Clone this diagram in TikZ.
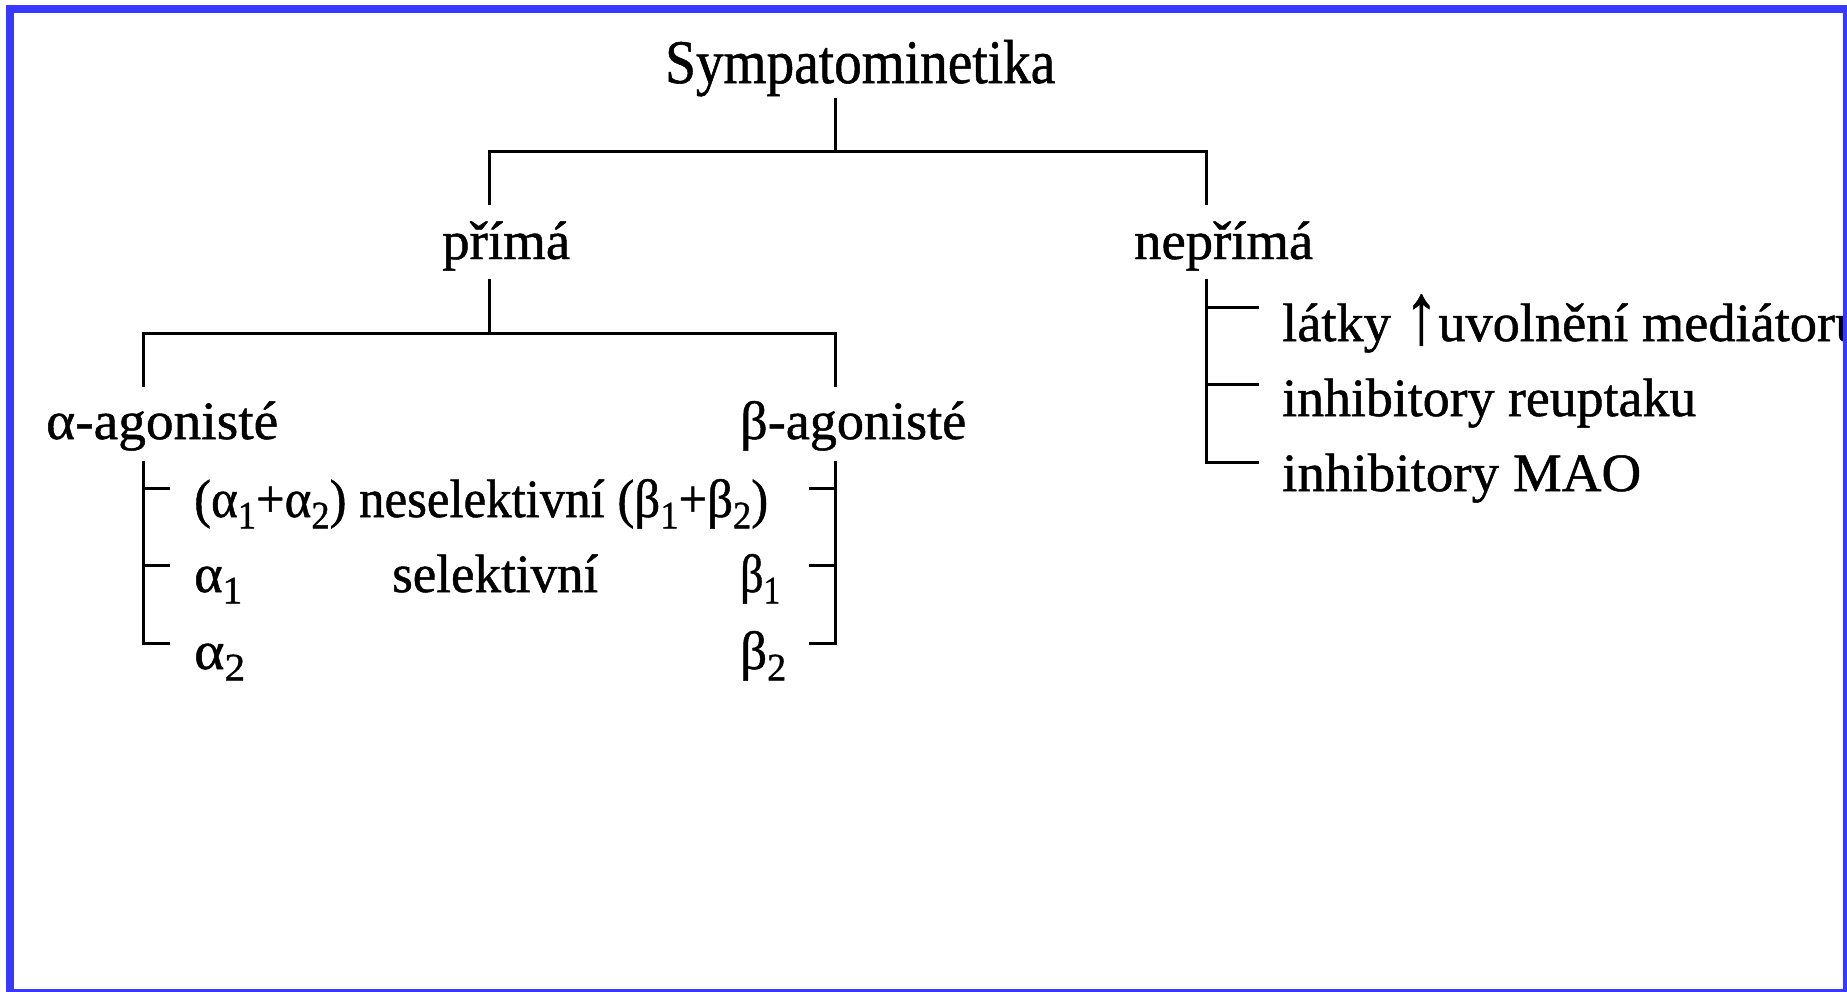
\documentclass[tikz,border=0pt]{standalone}
\usepackage{fontspec}
\setmainfont{Liberation Serif}[FakeBold=0.9]
\usepackage{graphicx}
\definecolor{frameblue}{RGB}{56,56,255}
\newcommand{\fitw}[2]{\resizebox{#1pt}{\height}{#2}}
\newcommand{\mysub}[1]{\raisebox{-0.21em}{\scalebox{0.72}{#1}}}
\newcommand{\uparr}{\raisebox{-0.04em}{\scalebox{1.25}[1.6]{↑}}}
\begin{document}
\begin{tikzpicture}[x=1pt,y=-1pt,
  txt/.style={anchor=base west,inner sep=0pt,font=\fontsize{54}{60}\selectfont},
  conn/.style={line width=3pt,line cap=rect}]
\useasboundingbox (0,0) rectangle (1847,991);
% texts
\node[txt,font=\fontsize{62}{70}\selectfont] (sym) at (665,83) {\fitw{390}{Sympatominetika}};
\node[txt] (prima) at (442,259) {\fitw{128}{přímá}};
\node[txt] (neprima) at (1134,259) {\fitw{179}{nepřímá}};
\node[txt] (alfa) at (46,439) {\fitw{232}{α-agonisté}};
\node[txt] (beta) at (740,439) {\fitw{226}{β-agonisté}};
\node[txt] (r1) at (194,517) {\fitw{574}{(α\mysub{1}+α\mysub{2}) neselektivní (β\mysub{1}+β\mysub{2})}};
\node[txt] (a1) at (194,592) {\fitw{48}{α\mysub{1}}};
\node[txt] (sel) at (392,592) {\fitw{206}{selektivní}};
\node[txt] (b1) at (740,592) {\fitw{40}{β\mysub{1}}};
\node[txt] (a2) at (194,669) {\fitw{51}{α\mysub{2}}};
\node[txt] (b2) at (740,669) {\fitw{46}{β\mysub{2}}};
\node[txt] (l1) at (1282,341) {\fitw{580}{látky \uparr uvolnění mediátoru}};
\node[txt] (l2) at (1282,416) {\fitw{414}{inhibitory reuptaku}};
\node[txt] (l3) at (1282,491) {\fitw{359}{inhibitory MAO}};
% junction coordinates
\coordinate (t0) at (835,99);
\coordinate (t1) at (835,151);
\coordinate (hL) at (489,151);
\coordinate (hR) at (1206,151);
\coordinate (dL) at (489,203);
\coordinate (dR) at (1206,203);
\coordinate (p0) at (489,280);
\coordinate (p1) at (489,333);
\coordinate (pL) at (143,333);
\coordinate (pR) at (835,333);
\coordinate (pLd) at (143,385);
\coordinate (pRd) at (835,385);
\coordinate (aTop) at (143,462);
\coordinate (aBot) at (143,643);
\coordinate (bTop) at (835,462);
\coordinate (bBot) at (835,643);
\coordinate (nTop) at (1206,280);
\coordinate (nBot) at (1206,462);
% connectors
\draw[conn] (t0) -- (t1);
\draw[conn] (dL) -- (hL) -- (hR) -- (dR);
\draw[conn] (p0) -- (p1);
\draw[conn] (pLd) -- (pL) -- (pR) -- (pRd);
% left bracket
\draw[conn] (aTop) -- (aBot) -- (168,643);
\draw[conn] (143,488) -- (168,488);
\draw[conn] (143,565) -- (168,565);
% right bracket
\draw[conn] (bTop) -- (bBot) -- (810,643);
\draw[conn] (810,488) -- (835,488);
\draw[conn] (810,565) -- (835,565);
% right list
\draw[conn] (nTop) -- (nBot) -- (1257,462);
\draw[conn] (1206,307) -- (1257,307);
\draw[conn] (1206,384) -- (1257,384);
% frame
\draw[frameblue,line width=8pt] (9.5,9) rectangle (1847,993);
\end{tikzpicture}
\end{document}
